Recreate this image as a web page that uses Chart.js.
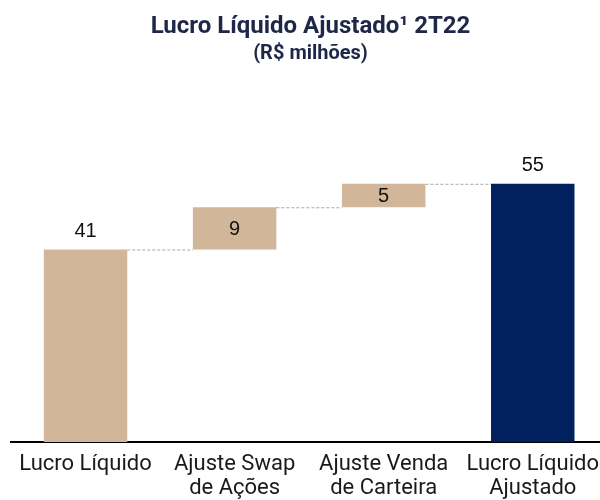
<!DOCTYPE html>
<html>
<head>
<meta charset="utf-8">
<script src="https://cdn.jsdelivr.net/npm/chart.js@4"></script>
<style>
  html, body { margin: 0; padding: 0; background: #fff; overflow: hidden; }
  #wrap { width: 610px; height: 500px; }
</style>
</head>
<body>
<div id="wrap"><canvas id="chart"></canvas></div>
<script>
const categories = [['Lucro Líquido'], ['Ajuste Swap', 'de Ações'], ['Ajuste Venda', 'de Carteira'], ['Lucro Líquido', 'Ajustado']];
const steps = [41, 9, 5, 55];
const isTotal = [true, false, false, true];
const barColors = ['#D1B699', '#D1B699', '#D1B699', '#00205E'];

// build floating ranges for the waterfall
let running = 0;
const ranges = steps.map((v, i) => {
  if (isTotal[i]) { running = v; return [0, v]; }
  const r = [running, running + v];
  running += v;
  return r;
});

const waterfallExtras = {
  id: 'waterfallExtras',
  afterDatasetsDraw(chart) {
    const { ctx, scales: { y } } = chart;
    const bars = chart.getDatasetMeta(0).data;
    ctx.save();
    // dashed connectors
    ctx.strokeStyle = '#a8a8a8';
    ctx.lineWidth = 1;
    ctx.setLineDash([3, 2]);
    for (let i = 0; i < bars.length - 1; i++) {
      const top = y.getPixelForValue(ranges[i][1]);
      const x1 = bars[i].x + bars[i].width / 2;
      const x2 = bars[i + 1].x - bars[i + 1].width / 2;
      ctx.beginPath();
      ctx.moveTo(x1, top + 0.5);
      ctx.lineTo(x2, top + 0.5);
      ctx.stroke();
    }
    ctx.setLineDash([]);
    // value labels
    ctx.fillStyle = '#111';
    ctx.font = '20px "Liberation Sans", Arial, sans-serif';
    ctx.textAlign = 'center';
    ctx.textBaseline = 'middle';
    bars.forEach((b, i) => {
      const lo = y.getPixelForValue(ranges[i][0]);
      const hi = y.getPixelForValue(ranges[i][1]);
      const ly = isTotal[i] ? hi - 18 : (lo + hi) / 2 + 1;
      ctx.fillText(String(steps[i]), b.x, ly);
    });
    ctx.restore();
  }
};

new Chart(document.getElementById('chart').getContext('2d'), {
  type: 'bar',
  data: {
    labels: categories,
    datasets: [{
      data: ranges,
      backgroundColor: barColors,
      borderWidth: 0,
      categoryPercentage: 1,
      barPercentage: 0.56
    }]
  },
  options: {
    responsive: true,
    maintainAspectRatio: false,
    animation: false,
    layout: { padding: { left: 11, right: 0, top: 4, bottom: 0 } },
    plugins: {
      legend: { display: false },
      tooltip: { enabled: false },
      title: {
        display: true,
        text: 'Lucro Líquido Ajustado¹ 2T22',
        color: '#1F2748',
        font: { family: 'Roboto', size: 24, weight: 'bold' },
        padding: { top: 9, bottom: 0 }
      },
      subtitle: {
        display: true,
        text: '(R$ milhões)',
        color: '#1F2748',
        font: { family: 'Roboto', size: 20, weight: 'bold' },
        padding: { bottom: 10 }
      }
    },
    scales: {
      x: {
        grid: { display: false, drawTicks: false },
        border: { display: true, color: '#000', width: 2 },
        ticks: {
          color: '#1a1a1a',
          font: { family: 'Roboto', size: 22, lineHeight: 1.09 },
          padding: 11,
          maxRotation: 0,
          autoSkip: false
        },
        afterFit(scale) { scale.height = 58; }
      },
      y: {
        display: false,
        min: 0,
        max: 78
      }
    }
  },
  plugins: [waterfallExtras]
});
</script>
</body>
</html>
